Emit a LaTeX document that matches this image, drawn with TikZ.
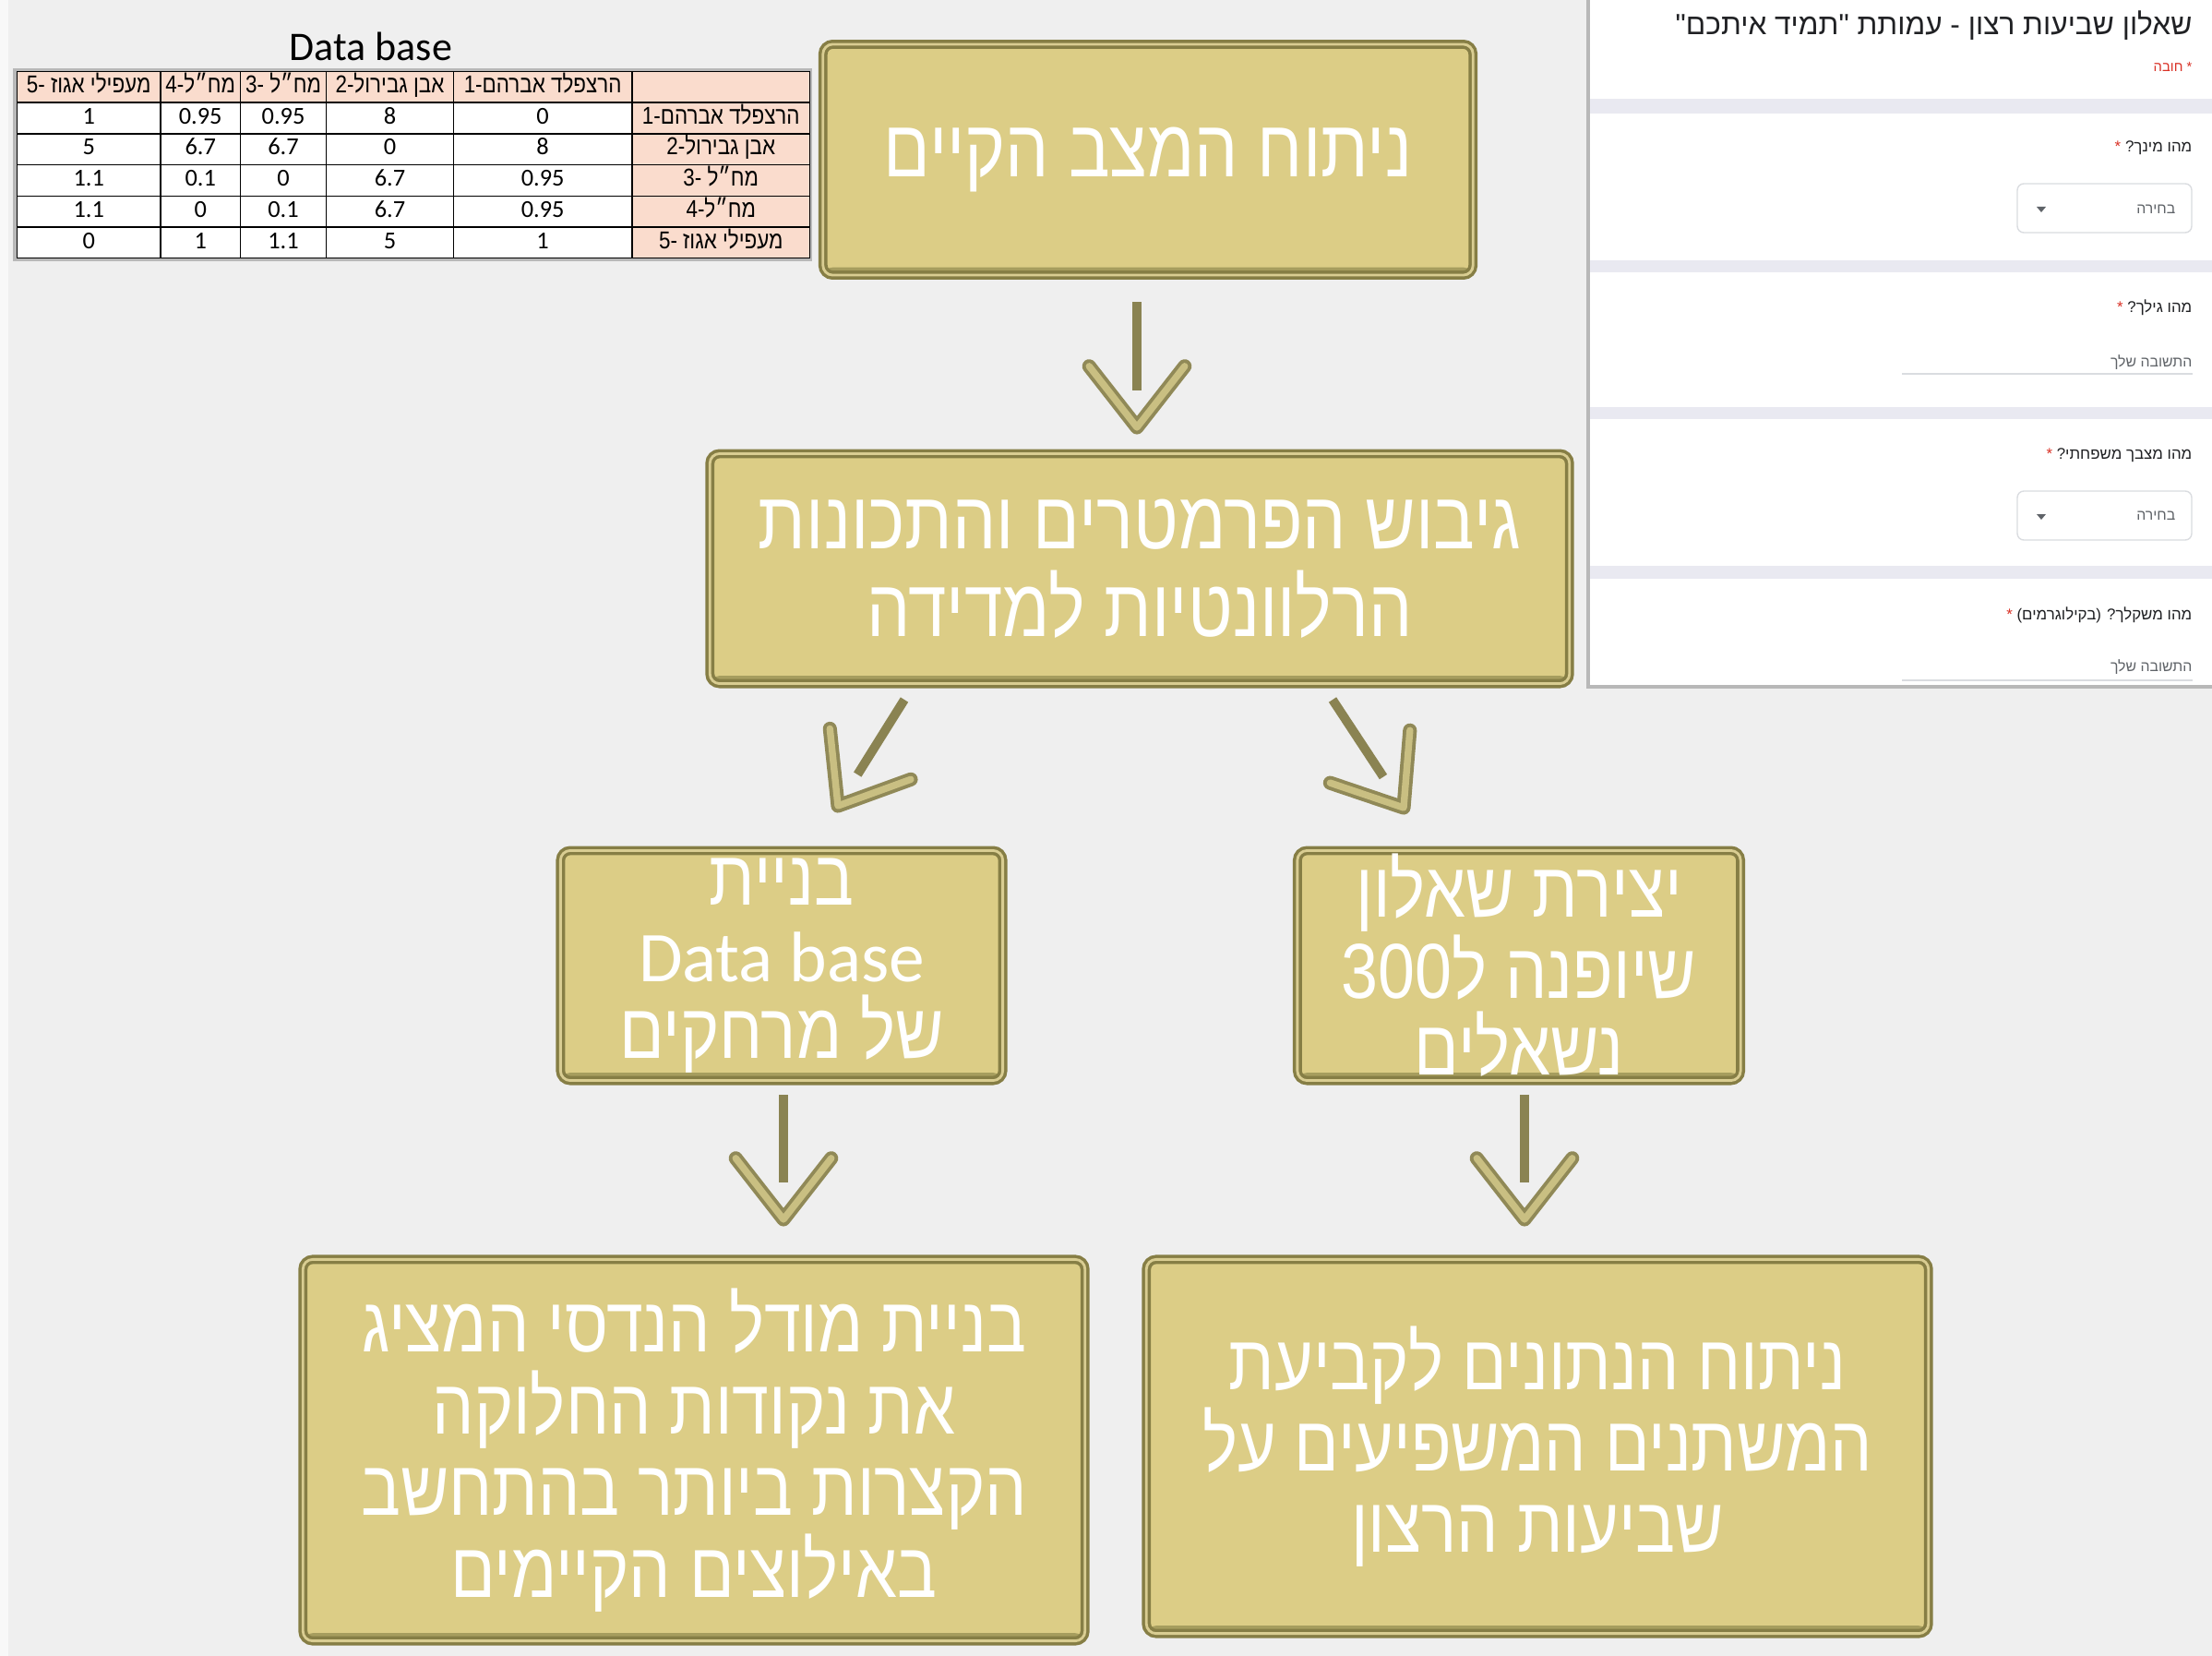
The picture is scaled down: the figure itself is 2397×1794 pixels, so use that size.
\documentclass[tikz,border=0pt]{standalone}
\usepackage{fontspec}
\setmainfont{Carlito}
\newfontfamily\heb[Script=Hebrew, FakeStretch=0.85]{Liberation Sans}
\newfontfamily\hebf[Script=Hebrew]{Liberation Sans}
\TeXXeTstate=1
\definecolor{tesisFondo}{HTML}{EFEFEF}
\definecolor{tesisKhaki}{HTML}{DCCD86}
\definecolor{tesisOlive}{HTML}{867E45}
\definecolor{tesisLight}{HTML}{D9CD92}
\definecolor{tesisSombra}{HTML}{A69D5E}
\definecolor{tesisTallo}{HTML}{8A8352}
\definecolor{tesisPunta}{HTML}{C9BF82}
\definecolor{tesisRosa}{HTML}{FADCCD}
\definecolor{tesisBanda}{HTML}{E9E9F1}
\definecolor{tesisMarco}{HTML}{B8B8B8}
\definecolor{tesisLinea}{HTML}{DADCE0}
\definecolor{tesisTexto}{HTML}{202124}
\definecolor{tesisGris}{HTML}{5F6368}
\definecolor{tesisRojo}{HTML}{D93025}
\usetikzlibrary{
	arrows.meta,
	positioning,
	calc,
	matrix
}
\tikzset{
	etapa/.style={
		draw=tesisOlive,
		double=tesisLight,
		double distance=0.8pt,
		line width=1pt,
		rounded corners=3pt,
		fill=tesisKhaki,
		path picture={\fill[tesisSombra] (path picture bounding box.south west) rectangle ([yshift=2.4pt]path picture bounding box.south east);},
		align=center,
		inner sep=0pt,
		text=white,
		font=\heb\fontsize{25pt}{25pt}\selectfont
	},
	tallo/.style={
		line width=2.8pt,
		tesisTallo
	},
	punta/.style={
		draw=tesisTallo!90!tesisPunta,
		double=tesisPunta,
		double distance=2.1pt,
		line width=1.1pt,
		line cap=round,
		line join=round
	},
	celda/.style={
		draw,
		fill=white,
		anchor=center,
		inner sep=0pt,
		minimum height=0.337cm,
		text height=5pt,
		text depth=1.5pt,
		font=\fontsize{7.5pt}{8pt}\selectfont
	},
	pregunta/.style={
		anchor=east,
		inner sep=0pt,
		text=tesisTexto,
		font=\hebf\fontsize{4.8pt}{6pt}\selectfont
	},
	respuesta/.style={
		anchor=east,
		inner sep=0pt,
		text=tesisGris,
		font=\hebf\fontsize{4.5pt}{5pt}\selectfont
	}
}

\begin{document}
\begin{tikzpicture}[x=0.01cm, y=-0.01cm]
	\useasboundingbox (0,0) rectangle (2397,1794);
	\fill[tesisFondo] (0,0) rectangle (2397,1794);
	\fill[white!55!tesisFondo] (0,0) rectangle (9,1794);

	% tabla de distancias
	\node[font=\fontsize{12.5pt}{14pt}\selectfont] (dbtitulo) at (402,50) {Data base};
	\fill[tesisMarco] (14,74) rectangle (880,283);
	\matrix (db) [matrix of nodes, anchor=north west, inner sep=0pt,
		column sep=-0.4pt, row sep=-0.4pt, nodes={celda},
		column 1/.style={nodes={minimum width=1.555cm}},
		column 2/.style={nodes={minimum width=0.864cm}},
		column 3/.style={nodes={minimum width=0.932cm}},
		column 4/.style={nodes={minimum width=1.375cm}},
		column 5/.style={nodes={minimum width=1.936cm}},
		column 6/.style={nodes={minimum width=1.925cm, fill=tesisRosa}},
		row 1/.style={nodes={fill=tesisRosa}}] at (17,76) {
		\heb\beginR מעפילי אגוז -5\endR & \heb\beginR מח״ל-4\endR & \heb\beginR מח״ל -3\endR & \heb\beginR אבן גבירול-2\endR & \heb\beginR הרצפלד אברהם-1\endR & \mbox{} \\
		1 & 0.95 & 0.95 & 8 & 0 & \heb\beginR הרצפלד אברהם-1\endR \\
		5 & 6.7 & 6.7 & 0 & 8 & \heb\beginR אבן גבירול-2\endR \\
		1.1 & 0.1 & 0 & 6.7 & 0.95 & \heb\beginR מח״ל -3\endR \\
		1.1 & 0 & 0.1 & 6.7 & 0.95 & \heb\beginR מח״ל-4\endR \\
		0 & 1 & 1.1 & 5 & 1 & \heb\beginR מעפילי אגוז -5\endR \\
	};

	% שאלון
	\fill[white] (1720,0) rectangle (2397,744);
	\draw[tesisMarco, line width=1.1pt] (1721,0) -- (1721,744) -- (2397,744);
	\foreach \ya/\yb in {107/123, 282/295, 441/454, 613/627}
		\fill[tesisBanda] (1723,\ya) rectangle (2397,\yb);
	\node[pregunta, font=\hebf\fontsize{9pt}{10pt}\selectfont] (ftitulo) at (2376,28) {\beginR שאלון שביעות רצון - עמותת "תמיד איתכם"\endR};
	\node[pregunta, text=tesisRojo, font=\hebf\fontsize{4.2pt}{5pt}\selectfont] (fobl) at (2376,72) {\beginR * חובה\endR};
	\node[pregunta] (fq1) at (2376,160) {\textcolor{tesisRojo}{*} \beginR מהו מינך?\endR};
	\node[pregunta] (fq2) at (2376,333) {\textcolor{tesisRojo}{*} \beginR מהו גילך?\endR};
	\node[pregunta] (fq3) at (2376,493) {\textcolor{tesisRojo}{*} \beginR מהו מצבך משפחתי?\endR};
	\node[pregunta] (fq4) at (2376,666) {\textcolor{tesisRojo}{*} \beginR מהו משקלך? (בקילוגרמים)\endR};
	\foreach \yc in {199, 532} {
		\draw[tesisLinea, rounded corners=2pt] (2186,\yc) rectangle (2375,\yc+53);
		\fill[tesisGris] (2207,\yc+25) -- (2217,\yc+25) -- (2212,\yc+31) -- cycle;
	}
	\node[respuesta] (fsel1) at (2358,227) {\beginR בחירה\endR};
	\node[respuesta] (fsel2) at (2358,559) {\beginR בחירה\endR};
	\node[respuesta] (fres1) at (2376,393) {\beginR התשובה שלך\endR};
	\node[respuesta] (fres2) at (2376,723) {\beginR התשובה שלך\endR};
	\draw[tesisLinea] (2061,405) -- (2376,405);
	\draw[tesisLinea] (2061,737) -- (2376,737);

	% שלבים
	\node[etapa, minimum width=7.04cm, minimum height=2.50cm] (mazav) at (1244,173) {\beginR ניתוח המצב הקיים\endR};
	\node[etapa, minimum width=9.31cm, minimum height=2.49cm, font=\heb\fontsize{25pt}{27pt}\selectfont] (gibush) at (1235,616) {\beginR גיבוש הפרמטרים והתכונות\endR\\\beginR הרלוונטיות למדידה\endR};
	\node[etapa, minimum width=4.79cm, minimum height=2.49cm, font=\heb\fontsize{24pt}{23.6pt}\selectfont] (bniya) at (847,1046) {\beginR בניית\endR\\{\rmfamily\fontsize{22pt}{23.6pt}\selectfont Data base}\\\beginR של מרחקים\endR};
	\node[etapa, minimum width=4.80cm, minimum height=2.49cm, font=\heb\fontsize{24pt}{23.6pt}\selectfont] (sheelon) at (1646,1046) {\beginR יצירת שאלון\endR\\\beginR שיופנה ל300\endR\\\beginR נשאלים\endR};
	\node[etapa, minimum width=8.47cm, minimum height=4.13cm, font=\heb\fontsize{24pt}{25.2pt}\selectfont] (model) at (752,1571) {\beginR בניית מודל הנדסי המציג\endR\\\beginR את נקודות החלוקה\endR\\\beginR הקצרות ביותר בהתחשב\endR\\\beginR באילוצים הקיימים\endR};
	\node[etapa, minimum width=8.47cm, minimum height=4.05cm, font=\heb\fontsize{24pt}{25pt}\selectfont] (nituach) at (1666,1567) {\beginR ניתוח הנתונים לקביעת\endR\\\beginR המשתנים המשפיעים על\endR\\\beginR שביעות הרצון\endR};

	% חצים
	\coordinate (a1s) at (1232,327);  \coordinate (a1t) at (1232,463);
	\coordinate (a2s) at (980,758);   \coordinate (a2t) at (908,873);
	\coordinate (a3s) at (1444,758);  \coordinate (a3t) at (1521,875);
	\coordinate (a4s) at (849,1186);  \coordinate (a4t) at (849,1321);
	\coordinate (a5s) at (1652,1186); \coordinate (a5t) at (1652,1321);
	\foreach \s/\t in {a1s/a1t, a2s/a2t, a3s/a3t, a4s/a4t, a5s/a5t} {
		\draw[tallo] (\s) -- ($(\t)!0.4cm!(\s)$);
		\draw[punta] ($(\t)!0.84cm!38:(\s)$) -- (\t) -- ($(\t)!0.84cm!-38:(\s)$);
	}
\end{tikzpicture}
\end{document}
